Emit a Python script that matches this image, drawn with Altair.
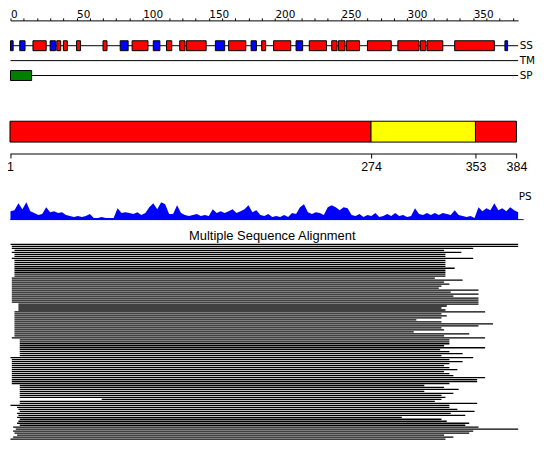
import altair as alt
import pandas as pd

FONT = "DejaVu Sans"
RED, BLUE, GREEN, YELLOW = "#ff0000", "#0000ff", "#008000", "#ffff00"

LENGTH = 384
TRACKS = ["SS", "TM", "SP"]

# secondary structure elements (H = helix, E = strand), residue boundaries
SS_TYPE = ["E", "E", "H", "E", "H", "H", "H", "H", "E", "H", "E", "H", "H", "H", "E",
           "H", "E", "H", "H", "E", "H", "H", "H", "H", "H", "H", "H", "H", "H", "E"]
SS_START = [0, 7, 17, 30, 35, 40, 50, 70, 83, 92, 108, 118, 128, 133, 155,
            165, 182, 190, 199, 216, 226, 243, 248, 254, 270, 293, 310, 315, 336, 374]
SS_END = [2, 11, 27, 34, 38, 43, 53, 73, 89, 104, 113, 122, 132, 148, 162,
          178, 186, 193, 212, 221, 239, 247, 253, 264, 288, 309, 314, 327, 366, 376]

# signal peptide
SP_START = [0]
SP_END = [16]

# domain boundaries
DOM_NAMES = ["Domain 1", "Domain 2", "Domain 3"]
DOM_START = [1, 274, 353]
DOM_END = [274, 353, 384]
DOM_TICKS = [1, 274, 353, 384]

# PS profile, sampled every 3 residues
PS_POS = list(range(0, 385, 3))
PS_SCORE = [9, 10, 17, 11, 18, 9, 7, 5, 6, 13, 8, 9, 7, 8, 5, 4, 3, 4, 3, 4,
            6, 2, 2, 3, 2, 2, 2, 12, 7, 8, 7, 6, 8, 5, 7, 13, 17, 11, 18, 16,
            6, 6, 15, 7, 5, 4, 5, 6, 4, 5, 4, 11, 7, 9, 7, 9, 11, 7, 9, 11,
            15, 8, 10, 5, 4, 6, 3, 4, 3, 5, 3, 7, 6, 13, 16, 8, 6, 8, 7, 5,
            13, 15, 13, 10, 13, 12, 5, 4, 6, 3, 5, 4, 7, 3, 4, 6, 4, 7, 4, 5,
            3, 4, 12, 6, 5, 7, 5, 7, 5, 7, 6, 5, 10, 5, 4, 3, 4, 2, 13, 9,
            12, 10, 17, 10, 12, 9, 13, 10, 8]

# multiple sequence alignment hits: start / end residue of each aligned sequence
MSA_START = [0, 1, 1,
             3, 1, 3, 3, 1, 3, 3, 3, 3, 3, 3, 3, 3, 3,
             1,
             1, 1, 1, 1, 1, 1, 1, 1, 1, 1, 1, 1,
             6, 6, 6, 6,
             3, 3, 3, 3, 3, 3, 3, 3, 3, 3, 3, 3, 3,
             1,
             7, 7, 7, 7, 7, 7, 7, 7, 7,
             0,
             1, 1, 1, 1, 1, 1, 1, 1, 1, 1, 1, 1, 1,
             7, 7, 7, 7, 7, 7, 7,
             69,
             7, 7,
             0,
             5, 6, 7, 5, 6, 5, 7, 6, 5, 7,
             2, 4, 2, 3, 5, 2,
             0]
MSA_END = [384, 384, 350, 328, 341, 329, 329, 350, 329, 329,
           329, 329, 336, 329, 329, 329, 329, 321, 342, 328,
           332, 326, 324, 354, 333, 354, 335, 354, 354, 354,
           354, 330, 326, 329, 359, 326, 330, 326, 307, 326,
           365, 354, 326, 328, 305, 347, 328, 359, 332, 332,
           332, 328, 359, 325, 332, 342, 326, 350, 332, 342,
           332, 328, 332, 338, 328, 332, 335, 359, 353, 353,
           332, 313, 328, 339, 313, 335, 326, 329, 326, 321,
           353, 332, 332, 338, 351, 333, 344, 296, 326, 330,
           347, 344, 354, 384, 350, 347, 328, 335, 329]

MSA_TITLE = "Multiple Sequence Alignment"

W, H = 511, 430
N_ROWS = len(MSA_START)

tracks_df = pd.DataFrame({"track": TRACKS, "start": [0] * 3, "end": [LENGTH] * 3})
boxes_df = pd.DataFrame({
    "track": ["SS"] * len(SS_TYPE) + ["SP"] * len(SP_START),
    "kind": SS_TYPE + ["SP"] * len(SP_START),
    "start": SS_START + SP_START,
    "end": SS_END + SP_END,
})
dom_df = pd.DataFrame({"track": ["Domains"] * 3, "name": DOM_NAMES,
                       "start": DOM_START, "end": DOM_END})
ps_df = pd.DataFrame({"pos": PS_POS, "score": PS_SCORE})
msa_df = pd.DataFrame({"row": list(range(1, N_ROWS + 1)),
                       "start": MSA_START, "end": MSA_END})

x0 = alt.Scale(domain=[0, LENGTH])
track_y = alt.Scale(type="band", domain=TRACKS, range=[18, 63],
                    paddingInner=0, paddingOuter=0)

top_axis = alt.Axis(orient="top", values=list(range(0, 381, 10)),
                    labelExpr="datum.value % 50 === 0 ? datum.label : ''",
                    tickSize=2.5, labelPadding=0.5, labelAlign="left",
                    labelBaseline="alphabetic", labelFlush=False, labelOverlap=False,
                    grid=False, title="", domainColor="black", tickColor="black",
                    labelColor="black", labelFont=FONT, labelFontSize=10.5)

lines = alt.Chart(tracks_df).mark_rule(color="black", strokeWidth=1).encode(
    x=alt.X("start:Q", scale=x0, axis=top_axis),
    x2="end:Q",
    y=alt.Y("track:N", scale=track_y,
            axis=alt.Axis(orient="right", ticks=False, tickSize=0, domain=False,
                          labelPadding=1, grid=False, title="", labelFont=FONT,
                          labelFontSize=10.5, labelColor="black")),
)

boxes = alt.Chart(boxes_df).mark_bar(size=10, stroke="black", strokeWidth=1).encode(
    x=alt.X("start:Q", scale=x0, axis=None),
    x2="end:Q",
    y=alt.Y("track:N", scale=track_y, axis=None),
    color=alt.Color("kind:N", scale=alt.Scale(domain=["H", "E", "SP"],
                                              range=[RED, BLUE, GREEN]), legend=None),
)

dom = alt.Chart(dom_df).mark_bar(stroke="black", strokeWidth=1).encode(
    x=alt.X("start:Q", scale=alt.Scale(domain=[1, LENGTH], range=[-0.5, 509.3]),
            axis=alt.Axis(orient="bottom", offset=-296, values=DOM_TICKS, tickSize=4.5,
                          labelPadding=3, labelFlush=False, labelOverlap=False,
                          grid=False, title="", domainColor="black", tickColor="black",
                          labelColor="black", labelFont="Liberation Sans",
                          labelFontSize=12.5)),
    x2="end:Q",
    y=alt.Y("track:N", scale=alt.Scale(type="band", domain=["Domains"],
                                       range=[101.5, 122.5],
                                       paddingInner=0, paddingOuter=0), axis=None),
    color=alt.Color("name:N", scale=alt.Scale(domain=DOM_NAMES,
                                              range=[RED, YELLOW, RED]), legend=None),
)

ps = alt.Chart(ps_df).mark_area(color=BLUE, interpolate="linear").encode(
    x=alt.X("pos:Q", scale=x0, axis=None),
    y=alt.Y("score:Q", scale=alt.Scale(domain=[0, 20], range=[201, 181]), axis=None),
)

one = pd.DataFrame({"text": ["PS"]})
ps_base = alt.Chart(one).mark_rule(color=BLUE, strokeWidth=1).encode(
    x=alt.value(0), x2=alt.value(516.5), y=alt.value(200.5))
ps_label = alt.Chart(one).mark_text(align="left", baseline="alphabetic", font=FONT,
                                    fontSize=10.5, color="black").encode(
    text="text:N", x=alt.value(511.5), y=alt.value(180.5))

msa_title = alt.Chart(pd.DataFrame({"text": [MSA_TITLE]})).mark_text(
    align="center", baseline="alphabetic", font="Liberation Sans", fontSize=13,
    color="black").encode(text="text:N", x=alt.value(263.5), y=alt.value(221))

msa = alt.Chart(msa_df).mark_rule(color="black", strokeWidth=1.3).encode(
    x=alt.X("start:Q", scale=x0, axis=None),
    x2="end:Q",
    y=alt.Y("row:Q", scale=alt.Scale(domain=[1, N_ROWS], range=[225.5, 225.5 + 2 * (N_ROWS - 1)]),
            axis=None),
)

chart = alt.layer(lines, boxes, dom, ps, ps_base, ps_label, msa_title, msa).resolve_scale(
    x="independent", y="independent", color="independent"
).properties(
    width=W, height=H,
    autosize=alt.AutoSizeParams(type="none"),
    padding={"left": 2.5, "top": 11, "right": 24, "bottom": 6},
).configure_view(strokeWidth=0)

chart.save("out.html", embed_options={"renderer": "svg", "actions": False})
